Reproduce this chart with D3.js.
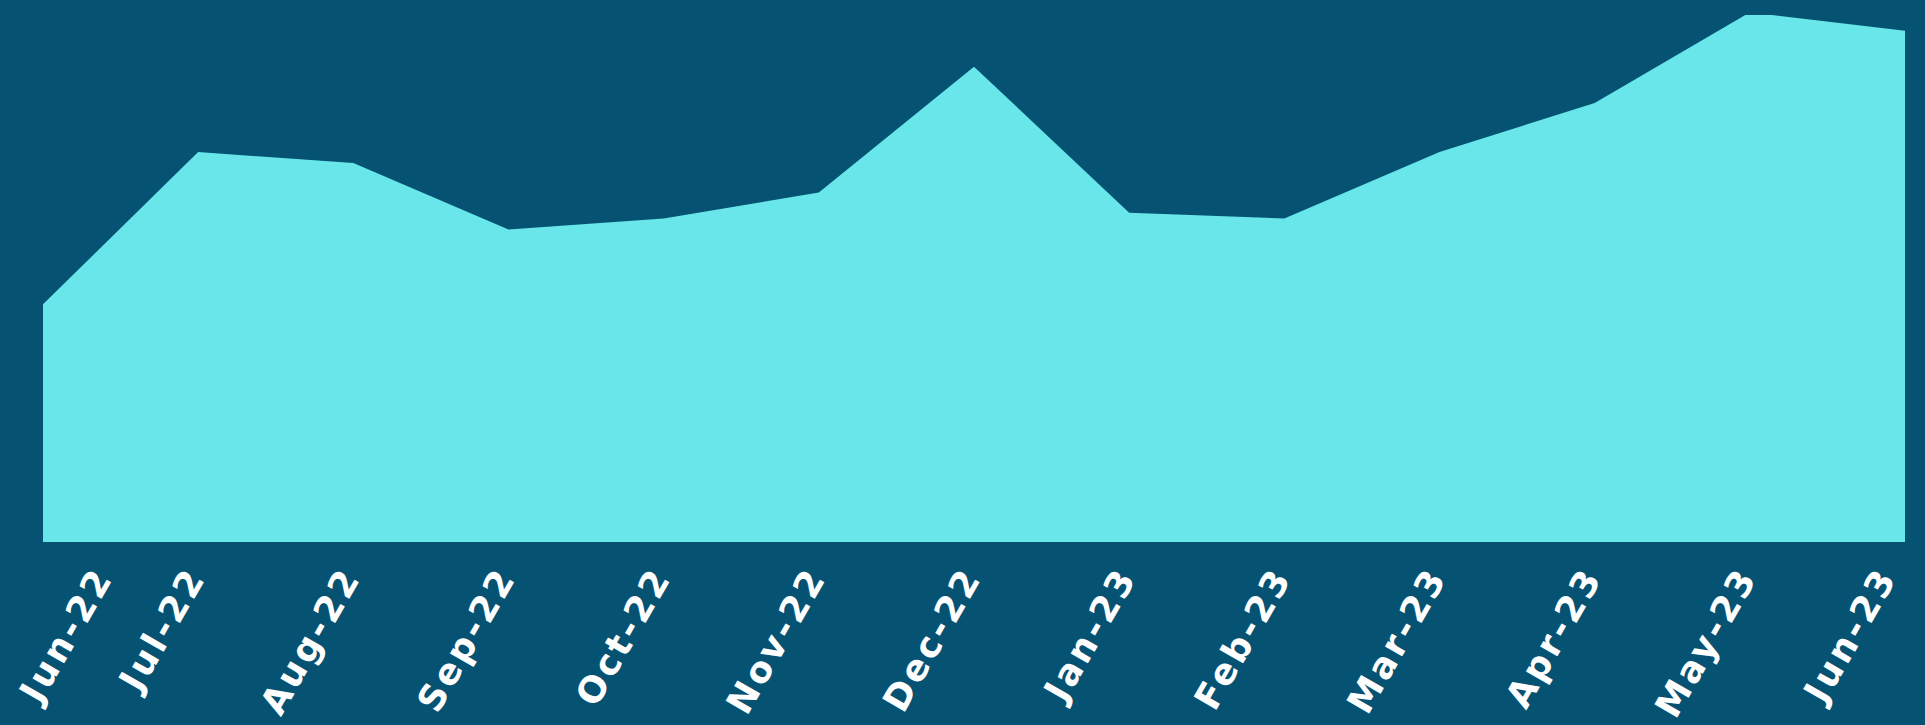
<!DOCTYPE html>
<html>
<head>
<meta charset="utf-8">
<script src="https://cdn.jsdelivr.net/npm/d3@7"></script>
<style>
  html, body { margin: 0; padding: 0; background: #065273; }
  svg { display: block; }
</style>
</head>
<body>
<svg id="chart" width="1925" height="725"></svg>
<script>
// ---- data ----
const months = ["Jun-22","Jul-22","Aug-22","Sep-22","Oct-22","Nov-22","Dec-22","Jan-23","Feb-23","Mar-23","Apr-23","May-23","Jun-23"];
const values = [45.1, 74.0, 71.9, 59.3, 61.4, 66.3, 90.2, 62.5, 61.4, 74.0, 83.3, 100.5, 97.0];
const yDomain = [0, 100];

// ---- layout ----
const W = 1925, H = 725;
const plot = { left: 43, right: 1905, top: 15, bottom: 542 };
const labelDx = 8, labelDy = 35;

const svg = d3.select("#chart");
svg.append("rect").attr("width", W).attr("height", H).attr("fill", "#065273");

const x = d3.scalePoint().domain(months).range([plot.left, plot.right]);
const y = d3.scaleLinear().domain(yDomain).range([plot.bottom, plot.top]);

svg.append("clipPath").attr("id", "clip")
  .append("rect")
  .attr("x", plot.left).attr("y", plot.top)
  .attr("width", plot.right - plot.left).attr("height", plot.bottom - plot.top);

const area = d3.area()
  .x((d, i) => x(months[i]))
  .y0(y(0))
  .y1(d => y(d));

svg.append("path")
  .datum(values)
  .attr("clip-path", "url(#clip)")
  .attr("fill", "#69e6e9")
  .attr("d", area);

// ---- x axis labels ----
const axis = d3.axisBottom(x).tickSize(0).tickPadding(0);
const gAxis = svg.append("g")
  .attr("transform", `translate(0,${plot.bottom})`)
  .call(axis);
gAxis.select(".domain").remove();

gAxis.selectAll(".tick text")
  .attr("fill", "#ffffff")
  .attr("font-family", "'DejaVu Sans', sans-serif")
  .attr("font-weight", 700)
  .attr("font-size", 36)
  .attr("letter-spacing", 3)
  .attr("text-anchor", "end")
  .attr("dy", 0)
  .attr("y", 0)
  .attr("transform", `translate(${labelDx},${labelDy}) rotate(-60)`);

// keep labels inside the chart
gAxis.selectAll(".tick").each(function() {
  const t = d3.select(this).select("text");
  const r = this.getBoundingClientRect();
  let shift = 0;
  if (r.left < 10) shift = 10 - r.left;
  if (r.right > plot.right) shift = plot.right - r.right;
  if (shift) t.attr("transform", `translate(${labelDx + shift},${labelDy}) rotate(-60)`);
});
</script>
</body>
</html>
